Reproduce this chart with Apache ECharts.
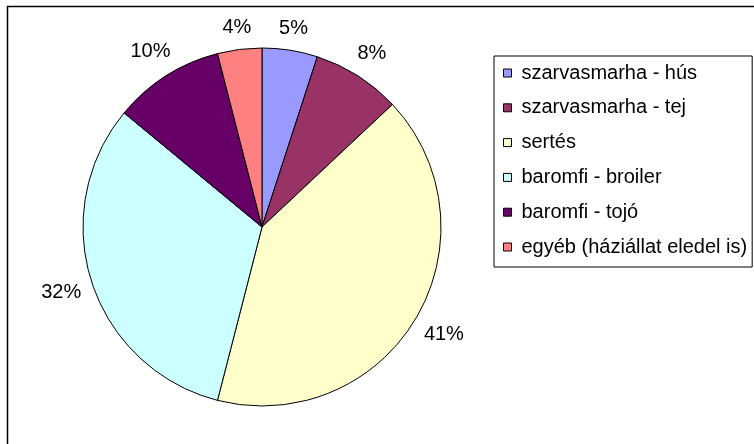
<!DOCTYPE html>
<html>
<head>
<meta charset="utf-8">
<script src="https://cdn.jsdelivr.net/npm/echarts@6/dist/echarts.min.js"></script>
<style>
    html, body { margin: 0; padding: 0; background: #fff; }
    #chart { width: 754px; height: 444px; }
</style>
</head>
<body>
<div id="chart"></div>
<script>
// adatok
const categories = ['szarvasmarha - hús', 'szarvasmarha - tej', 'sertés', 'baromfi - broiler', 'baromfi - tojó', 'egyéb (háziállat eledel is)'];
const shares = [5, 8, 41, 32, 10, 4];
const colors = ['#9999FF', '#993366', '#FFFFCC', '#CCFFFF', '#660066', '#FF8080'];

const CX = 262, CY = 227, R = 179; // kör közepe, sugara
const font = "'Liberation Sans', Arial, sans-serif";

const total = shares.reduce((a, b) => a + b, 0);

const chart = echarts.init(document.getElementById('chart'));
chart.setOption({
    animation: false,
    backgroundColor: '#fff',
    color: colors,
    graphic: [
        {
            type: 'rect',
            shape: { x: 7.5, y: 6.5, width: 800, height: 500 },
            style: { fill: 'none', stroke: '#000', lineWidth: 1.5 },
            silent: true
        }
    ],
    legend: {
        orient: 'vertical',
        left: 494,
        top: 56,
        padding: [7, 5, 10, 9],
        itemGap: 14.8,
        itemWidth: 8,
        itemHeight: 8,
        icon: 'rect',
        selectedMode: false,
        borderColor: '#000',
        borderWidth: 1,
        itemStyle: { borderColor: '#000', borderWidth: 1 },
        textStyle: {
            fontFamily: font,
            fontSize: 20,
            color: '#000',
            lineHeight: 20,
            padding: [0, 0, 0, 5]
        },
        data: categories
    },
    series: [
        {
            type: 'pie',
            center: [CX, CY],
            radius: R,
            startAngle: 90,
            clockwise: true,
            silent: true,
            itemStyle: { borderColor: '#000', borderWidth: 1 },
            label: {
                show: true,
                position: 'outside',
                overflow: 'none',
                formatter: '{d}%',
                fontFamily: font,
                fontSize: 20,
                color: '#000'
            },
            labelLine: { show: false },
            labelLayout: function (params) {
                // címke a szelet közepének irányában, a kör mellett
                const i = params.dataIndex;
                let before = 0;
                for (let k = 0; k < i; k++) before += shares[k];
                const a = (before + shares[i] / 2) / total * Math.PI * 2;
                const s = Math.sin(a), c = Math.cos(a);
                const w = params.labelRect.width, h = params.labelRect.height;
                const d = R + 10 + Math.abs(s) * w / 2 + Math.abs(c) * h / 2;
                return {
                    x: CX + s * d,
                    y: CY - c * d,
                    align: 'center',
                    verticalAlign: 'middle'
                };
            },
            data: categories.map((name, i) => ({ name: name, value: shares[i] }))
        }
    ]
});
</script>
</body>
</html>
